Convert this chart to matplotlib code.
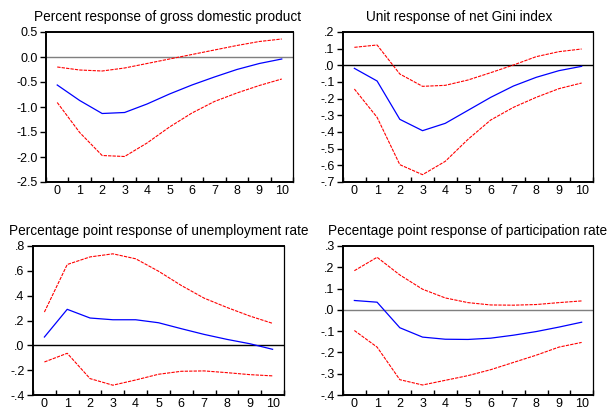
import numpy as np
import matplotlib
matplotlib.use("Agg")
import matplotlib.pyplot as plt
from matplotlib.ticker import FixedLocator

plt.rcParams['font.family'] = ['Liberation Sans', 'DejaVu Sans']
plt.rcParams['font.size'] = 9

horizon = list(range(11))

# gross domestic product (percent)
gdp_mid = [-0.56, -0.87, -1.13, -1.11, -0.94, -0.74, -0.56, -0.40, -0.25, -0.13, -0.04]
gdp_hi = [-0.20, -0.26, -0.28, -0.22, -0.13, -0.04, 0.05, 0.14, 0.23, 0.31, 0.36]
gdp_lo = [-0.91, -1.51, -1.97, -1.99, -1.72, -1.40, -1.12, -0.89, -0.72, -0.57, -0.44]

# net Gini index (unit)
gini_mid = [-0.018, -0.094, -0.324, -0.392, -0.348, -0.270, -0.192, -0.124, -0.072, -0.032, -0.006]
gini_hi = [0.108, 0.122, -0.052, -0.126, -0.120, -0.088, -0.044, 0.002, 0.052, 0.082, 0.098]
gini_lo = [-0.142, -0.312, -0.596, -0.656, -0.576, -0.444, -0.328, -0.252, -0.192, -0.140, -0.106]

# unemployment rate (pp)
unemp_mid = [0.067, 0.29, 0.22, 0.206, 0.206, 0.182, 0.134, 0.088, 0.048, 0.013, -0.032]
unemp_hi = [0.268, 0.651, 0.712, 0.737, 0.697, 0.597, 0.482, 0.380, 0.305, 0.236, 0.177]
unemp_lo = [-0.134, -0.064, -0.268, -0.321, -0.279, -0.233, -0.209, -0.206, -0.220, -0.236, -0.246]

# participation rate (pp)
part_mid = [0.044, 0.036, -0.084, -0.128, -0.138, -0.139, -0.133, -0.119, -0.102, -0.081, -0.058]
part_hi = [0.184, 0.247, 0.164, 0.097, 0.056, 0.034, 0.023, 0.022, 0.025, 0.034, 0.042]
part_lo = [-0.097, -0.175, -0.328, -0.353, -0.331, -0.309, -0.281, -0.247, -0.213, -0.175, -0.153]

titles = ["Percent response of gross domestic product",
          "Unit response of net Gini index",
          "Percentage point response of unemployment rate",
          "Pecentage point response of participation rate"]

gdp_ticks = [-2.5, -2.0, -1.5, -1.0, -0.5, 0.0, 0.5]
gdp_labels = ["-2.5", "-2.0", "-1.5", "-1.0", "-0.5", "0.0", "0.5"]
gini_ticks = [-0.7, -0.6, -0.5, -0.4, -0.3, -0.2, -0.1, 0.0, 0.1, 0.2]
gini_labels = ["-.7", "-.6", "-.5", "-.4", "-.3", "-.2", "-.1", ".0", ".1", ".2"]
unemp_ticks = [-0.4, -0.2, 0.0, 0.2, 0.4, 0.6, 0.8]
unemp_labels = ["-.4", "-.2", ".0", ".2", ".4", ".6", ".8"]
part_ticks = [-0.4, -0.3, -0.2, -0.1, 0.0, 0.1, 0.2, 0.3]
part_labels = ["-.4", "-.3", "-.2", "-.1", ".0", ".1", ".2", ".3"]

W, H = 609, 412
fig = plt.figure(figsize=(W / 100, H / 100), dpi=100)

# pixel boxes: left, right, top, bottom
boxes = [(46, 293, 32, 182), (343, 593, 32, 182),
         (33, 284, 246, 395), (343, 593, 246, 395)]
mids = [gdp_mid, gini_mid, unemp_mid, part_mid]
his = [gdp_hi, gini_hi, unemp_hi, part_hi]
los = [gdp_lo, gini_lo, unemp_lo, part_lo]
yticks = [gdp_ticks, gini_ticks, unemp_ticks, part_ticks]
ylabels = [gdp_labels, gini_labels, unemp_labels, part_labels]
zero_col = ['#7f7f7f', 'black', 'black', '#7f7f7f']
title_x = [0.49, 0.465, 0.5, 0.5]

for i in range(4):
    l, r, t, b = boxes[i]
    ax = fig.add_axes([l / W, 1 - b / H, (r - l) / W, (b - t) / H])
    ax.axhline(0, color=zero_col[i], lw=1.0, zorder=1)
    ax.plot(horizon, mids[i], color='#0000ff', lw=0.9, zorder=3)
    ax.plot(horizon, his[i], color='#ff0000', lw=0.8, ls=(0, (3, 1)), zorder=2)
    ax.plot(horizon, los[i], color='#ff0000', lw=0.8, ls=(0, (3, 1)), zorder=2)
    ax.set_xlim(-0.5, 10.5)
    ax.set_ylim(yticks[i][0], yticks[i][-1])
    ax.set_xticks(horizon)
    ax.set_xticklabels([str(h) for h in horizon])
    ax.xaxis.set_minor_locator(FixedLocator(np.arange(-0.5, 11, 1.0)))
    ax.tick_params(axis='x', which='major', length=0, pad=2.5, labelsize=9)
    ax.tick_params(axis='x', which='minor', direction='in', length=3.5, width=1.0)
    ax.set_yticks(yticks[i])
    ax.set_yticklabels(ylabels[i])
    ax.tick_params(axis='y', direction='out', length=4, width=1.0, pad=2, labelsize=9)
    for s in ['top', 'left', 'bottom']:
        ax.spines[s].set_linewidth(1.4)
    ax.spines['right'].set_linewidth(0.9)
    ax.set_title(titles[i], fontsize=9.8, pad=8, x=title_x[i])

fig.savefig("out.png", dpi=100)
